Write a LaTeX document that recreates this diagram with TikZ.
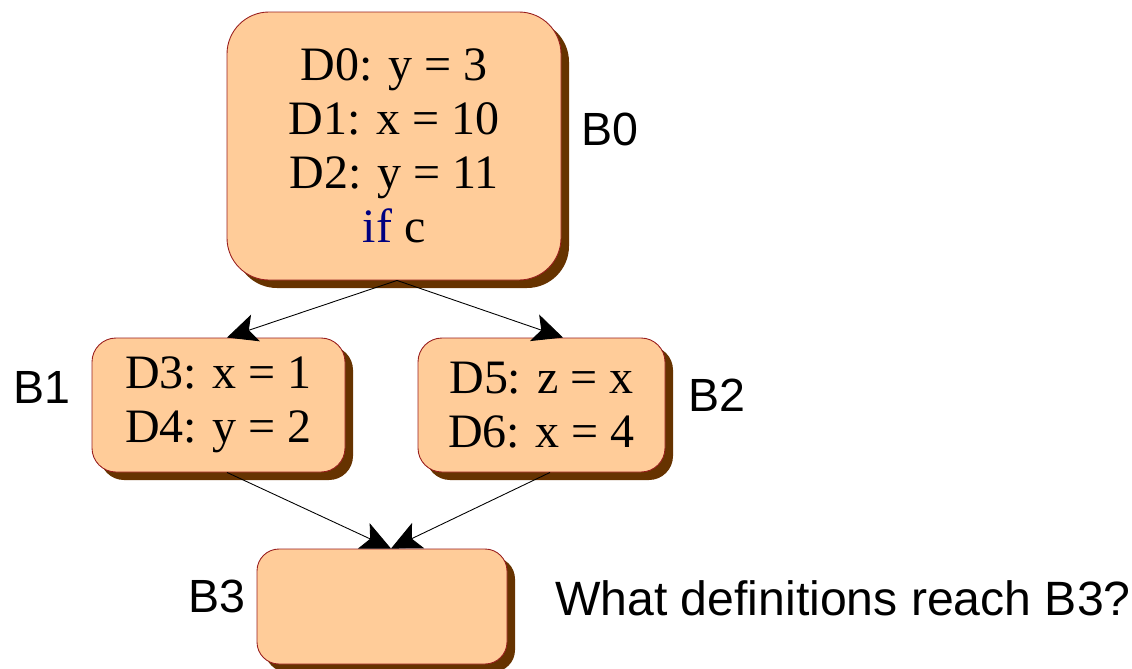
\documentclass[tikz,border=0pt]{standalone}
\usepackage{fontspec}
\setmainfont{Liberation Serif}
\newfontfamily\labelfont{Liberation Sans}
\usepackage{tikz}
\usetikzlibrary{arrows.meta,shadows}

\definecolor{boxfill}{RGB}{255,204,153}
\definecolor{boxedge}{RGB}{153,30,30}
\definecolor{shadowbrown}{RGB}{102,51,0}
\definecolor{kwblue}{RGB}{0,0,128}

\begin{document}
\begin{tikzpicture}[x=1cm,y=1cm,
    block/.style={draw=boxedge,line width=0.5pt,fill=boxfill,inner sep=0pt,align=center,
      font=\fontsize{27.3}{30.7}\selectfont,
      drop shadow={shadow xshift=0.16cm,shadow yshift=-0.16cm,fill=shadowbrown,opacity=1}},
    blabel/.style={anchor=base,font=\labelfont\fontsize{26.5}{30}\selectfont},
    flow/.style={line width=0.5pt,-{Stealth[length=0.6cm,width=0.56cm,inset=0.14cm]}}]
  \useasboundingbox (0,0) rectangle (22.64,-13.36);
  % Block B0: entry
  \node[block,rounded corners=0.84cm,minimum width=6.68cm,minimum height=5.36cm] (b0) at (7.88,-2.92)
    {D0: y = 3\\D1: x = 10\\D2: y = 11\\\textcolor{kwblue}{if} c};
  \node[blabel] (lb0) at (12.2,-2.9) {B0};
  % Blocks B1 and B2: the two branches
  \node[block,rounded corners=0.48cm,minimum width=5.06cm,minimum height=2.68cm] (b1) at (4.37,-8.1)
    {D3: x = 1\\D4: y = 2};
  \node[blabel] (lb1) at (0.84,-8.06) {B1};
  \node[block,rounded corners=0.48cm,minimum width=4.94cm,minimum height=2.68cm] (b2) at (10.83,-8.1)
    {D5: z = x\\D6: x = 4};
  \node[blabel] (lb2) at (14.34,-8.22) {B2};
  % Block B3: join
  \node[block,rounded corners=0.44cm,minimum width=5.0cm,minimum height=2.3cm] (b3) at (7.64,-12.13) {};
  \node[blabel] (lb3) at (4.33,-12.24) {B3};
  \node[blabel,anchor=base west,font=\labelfont\fontsize{27.4}{31}\selectfont] (ask) at (10.98,-12.3)
    {What definitions reach B3?};
  % Edges
  \draw[flow] ([xshift=0.06cm]b0.south) -- ([xshift=0.17cm]b1.north);
  \draw[flow] ([xshift=0.06cm]b0.south) -- ([xshift=0.43cm]b2.north);
  \draw[flow] ([xshift=0.17cm]b1.south) -- ([xshift=0.18cm]b3.north);
  \draw[flow] ([xshift=0.17cm]b2.south) -- ([xshift=0.18cm]b3.north);
\end{tikzpicture}
\end{document}
